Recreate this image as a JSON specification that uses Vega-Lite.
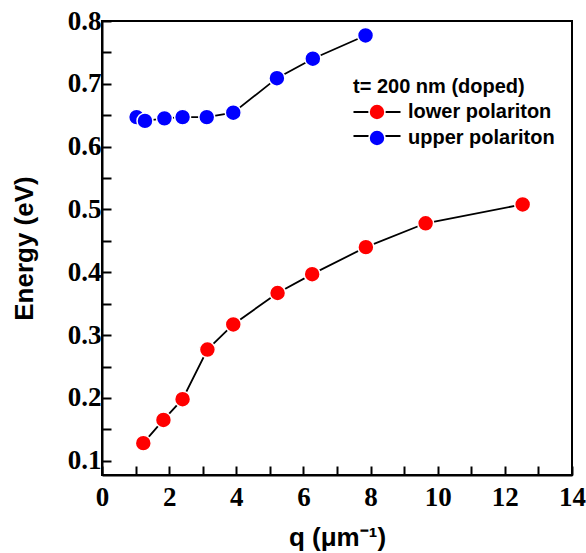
{
  "$schema": "https://vega.github.io/schema/vega-lite/v6.json",
  "width": 470,
  "height": 454,
  "autosize": {"type": "none"},
  "padding": {"left": 102, "top": 21, "right": 14, "bottom": 78},
  "background": "white",
  "config": {
    "view": {"stroke": "black", "strokeWidth": 2},
    "legend": {
      "orient": "none",
      "padding": 0,
      "titleFont": "Liberation Sans",
      "titleFontWeight": "bold",
      "titleFontSize": 20,
      "titleColor": "black",
      "labelFont": "Liberation Sans",
      "labelFontWeight": "bold",
      "labelFontSize": 20,
      "labelColor": "black",
      "symbolSize": 254,
      "rowPadding": 4,
      "symbolOffset": 14,
      "labelOffset": 21,
      "labelLimit": 300
    }
  },
  "data": {
    "values": [
      {"q": 1.23, "E": 0.128, "series": "lower polariton"},
      {"q": 1.83, "E": 0.165, "series": "lower polariton"},
      {"q": 2.40, "E": 0.198, "series": "lower polariton"},
      {"q": 3.14, "E": 0.277, "series": "lower polariton"},
      {"q": 3.91, "E": 0.317, "series": "lower polariton"},
      {"q": 5.23, "E": 0.367, "series": "lower polariton"},
      {"q": 6.26, "E": 0.397, "series": "lower polariton"},
      {"q": 7.86, "E": 0.440, "series": "lower polariton"},
      {"q": 9.64, "E": 0.478, "series": "lower polariton"},
      {"q": 12.53, "E": 0.508, "series": "lower polariton"},
      {"q": 1.03, "E": 0.647, "series": "upper polariton"},
      {"q": 1.28, "E": 0.641, "series": "upper polariton"},
      {"q": 1.86, "E": 0.645, "series": "upper polariton"},
      {"q": 2.40, "E": 0.647, "series": "upper polariton"},
      {"q": 3.12, "E": 0.647, "series": "upper polariton"},
      {"q": 3.91, "E": 0.654, "series": "upper polariton"},
      {"q": 5.21, "E": 0.709, "series": "upper polariton"},
      {"q": 6.28, "E": 0.740, "series": "upper polariton"},
      {"q": 7.85, "E": 0.777, "series": "upper polariton"}
    ]
  },
  "encoding": {
    "x": {
      "field": "q",
      "type": "quantitative",
      "scale": {"domain": [0, 14], "nice": false, "zero": false},
      "axis": {
        "title": "q (μm⁻¹)",
        "grid": false,
        "domainColor": "black",
        "domainWidth": 2,
        "tickColor": "black",
        "tickWidth": 2,
        "tickSize": -9,
        "labelFont": "Liberation Serif",
        "labelFontWeight": "bold",
        "labelFontSize": 27,
        "labelColor": "black",
        "labelFlush": false,
        "labelOverlap": false,
        "titleFont": "Liberation Sans",
        "titleFontWeight": "bold",
        "titleFontSize": 26,
        "titleColor": "black",
        "values": [0, 1, 2, 3, 4, 5, 6, 7, 8, 9, 10, 11, 12, 13, 14],
        "labelExpr": "datum.value % 2 == 0 ? datum.label : ''",
        "labelPadding": 18,
        "titlePadding": 14,
        "encode": {
          "ticks": {"update": {"y2": {"signal": "datum.value % 2 == 0 ? -9 : -4"}}}
        }
      }
    },
    "y": {
      "field": "E",
      "type": "quantitative",
      "scale": {"domain": [0.0773, 0.8], "nice": false, "zero": false},
      "axis": {
        "title": "Energy (eV)",
        "grid": false,
        "domainColor": "black",
        "domainWidth": 2,
        "tickColor": "black",
        "tickWidth": 2,
        "tickSize": -9,
        "labelFont": "Liberation Serif",
        "labelFontWeight": "bold",
        "labelFontSize": 27,
        "labelColor": "black",
        "labelFlush": false,
        "labelOverlap": false,
        "titleFont": "Liberation Sans",
        "titleFontWeight": "bold",
        "titleFontSize": 26,
        "titleColor": "black",
        "values": [0.1, 0.15, 0.2, 0.25, 0.3, 0.35, 0.4, 0.45, 0.5, 0.55, 0.6, 0.65, 0.7, 0.75, 0.8],
        "labelExpr": "abs(datum.value*10 - round(datum.value*10)) < 0.001 ? format(datum.value, '.1f') : ''",
        "labelPadding": 10,
        "titlePadding": 30,
        "encode": {
          "ticks": {"update": {"x2": {"signal": "abs(datum.value*10 - round(datum.value*10)) < 0.001 ? 9 : 4"}}}
        }
      }
    }
  },
  "layer": [
    {
      "mark": {"type": "line", "strokeWidth": 1.8},
      "encoding": {
        "stroke": {
          "field": "series",
          "type": "nominal",
          "scale": {"domain": ["lower polariton", "upper polariton"], "range": ["black", "black"]},
          "legend": {
            "title": "t= 200 nm (doped)",
            "legendX": 251,
            "legendY": 56,
            "zindex": 1,
            "symbolType": "M-2.95,0L-0.95,0M0.95,0L2.95,0",
            "symbolStrokeWidth": 1.8,
            "symbolStrokeColor": "black",
            "labelOpacity": 0,
            "titleOpacity": 0
          }
        }
      }
    },
    {
      "mark": {"type": "point", "shape": "circle", "filled": true, "size": 254, "opacity": 1, "stroke": "white", "strokeWidth": 1.5},
      "encoding": {
        "fill": {
          "field": "series",
          "type": "nominal",
          "scale": {"range": ["#ff0000", "#0000ff"]},
          "legend": {
            "title": "t= 200 nm (doped)",
            "legendX": 251,
            "legendY": 56,
            "zindex": 2,
            "symbolType": "circle",
            "symbolStrokeWidth": 1.5,
            "symbolStrokeColor": "white",
            "symbolOpacity": 1
          }
        }
      }
    }
  ]
}
